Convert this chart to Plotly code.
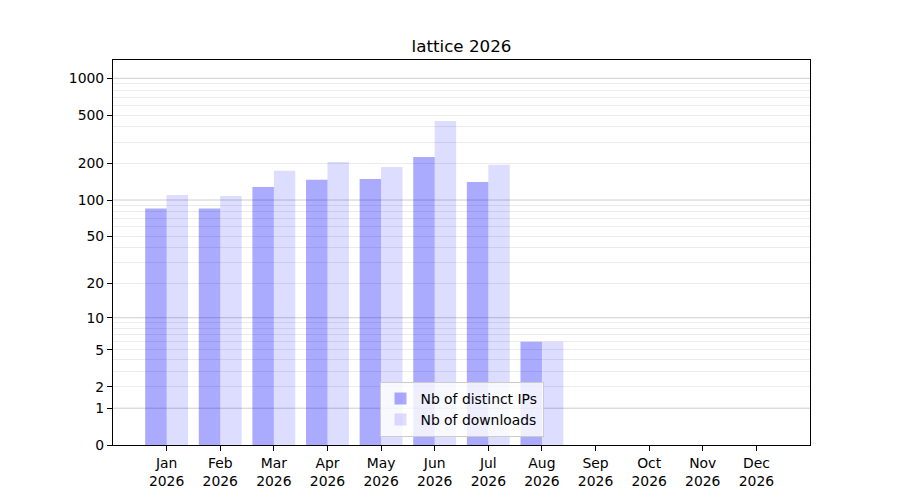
import numpy as np
import plotly.graph_objects as go

# data
months = ['Jan', 'Feb', 'Mar', 'Apr', 'May', 'Jun', 'Jul', 'Aug', 'Sep', 'Oct', 'Nov', 'Dec']
year = '2026'
distinct_ips = [85, 85, 128, 147, 149, 226, 141, 6, 0, 0, 0, 0]
downloads = [110, 108, 174, 206, 187, 447, 195, 6, 0, 0, 0, 0]

tick_values = [0, 1, 2, 5, 10, 20, 50, 100, 200, 500, 1000]
decade_values = [1, 10, 100, 1000]
minor_values = [2, 3, 4, 5, 6, 7, 8, 9,
                20, 30, 40, 50, 60, 70, 80, 90,
                200, 300, 400, 500, 600, 700, 800, 900]


def fscale(v):
    # y axis scale is log10(v + 1)
    return np.log10(np.asarray(v, dtype=float) + 1)


x = list(range(len(months)))
FONT = 'DejaVu Sans'

fig = go.Figure()

fig.add_trace(go.Bar(
    x=x, y=fscale(distinct_ips),
    width=0.4, offset=-0.4,
    marker=dict(color='rgba(0,0,255,0.333)', line=dict(width=0)),
    name='Nb of distinct IPs',
    customdata=distinct_ips, hovertemplate='%{customdata}<extra></extra>',
))
fig.add_trace(go.Bar(
    x=x, y=fscale(downloads),
    width=0.4, offset=0,
    marker=dict(color='rgba(0,0,255,0.135)', line=dict(width=0)),
    name='Nb of downloads',
    customdata=downloads, hovertemplate='%{customdata}<extra></extra>',
))

# darker grid lines at decades
for v in decade_values:
    fig.add_hline(y=float(fscale(v)), line=dict(color='rgba(0,0,0,0.2)', width=1), layer='below')

fig.update_layout(
    width=900, height=500,
    margin=dict(l=112.5, r=90, t=60, b=55),
    paper_bgcolor='white', plot_bgcolor='white',
    font=dict(family=FONT, size=13.9, color='black'),
    title=dict(text='lattice 2026', x=0.5, xanchor='center', xref='paper',
               y=1 - 46 / 500, yref='container', yanchor='middle',
               font=dict(size=16.7, color='black')),
    barmode='overlay',
    showlegend=True,
    legend=dict(x=0.5, xanchor='center', y=0.021, yanchor='bottom',
                bgcolor='rgba(255,255,255,0.8)', bordercolor='#cccccc', borderwidth=1,
                font=dict(size=13.9), traceorder='normal', tracegroupgap=2),
)

fig.update_xaxes(
    range=[-1, 12],
    tickmode='array', tickvals=x,
    ticktext=[f'{m}<br>{year}' for m in months],
    ticks='outside', ticklen=5, tickwidth=1.1, tickcolor='black',
    showline=True, linecolor='black', linewidth=1.1, mirror=True,
    showgrid=False, zeroline=False,
)
fig.update_yaxes(
    range=[0, 3.15],
    tickmode='array', tickvals=fscale(tick_values).tolist(),
    ticktext=[str(v) for v in tick_values],
    ticks='outside', ticklen=5, tickwidth=1.1, tickcolor='black',
    showline=True, linecolor='black', linewidth=1.1, mirror=True,
    showgrid=False, zeroline=False,
    minor=dict(tickmode='array', tickvals=fscale(minor_values).tolist(),
               ticks='', showgrid=True, gridcolor='rgba(0,0,0,0.08)', gridwidth=1),
)

# remove the page's default body margin so the figure sits at the top-left corner
fig.write_html('out.html', config={'displayModeBar': False},
               post_script="document.body.style.margin='0';")
